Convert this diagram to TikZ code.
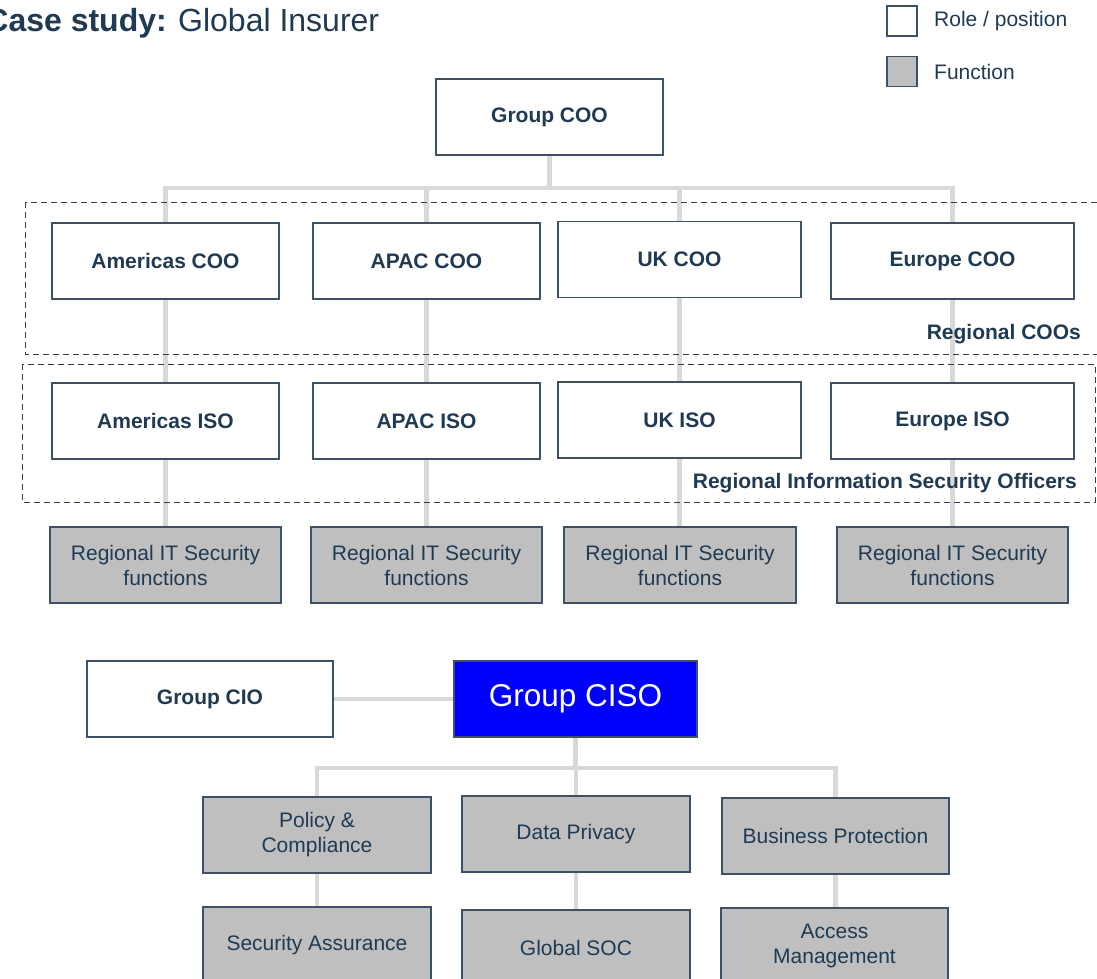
\documentclass[tikz,border=0pt]{standalone}
\usepackage{fontspec}
\setmainfont{Liberation Sans}
\usetikzlibrary{backgrounds}
\definecolor{navy}{HTML}{1F3A52}
\definecolor{edgec}{HTML}{3E5063}
\definecolor{linec}{HTML}{D9D9D9}
\definecolor{funcfill}{HTML}{BFBFBF}
\definecolor{cisoblue}{HTML}{0000FF}
\definecolor{dashc}{HTML}{2F3F4F}
\begin{document}
\begin{tikzpicture}[x=1pt,y=-1pt,
  box/.style={draw=edgec, line width=1.3pt, inner sep=0pt, minimum height=76pt, align=center, text=navy, font=\fontsize{21}{25}\selectfont},
  rolebox/.style={box, fill=white, font=\bfseries\fontsize{21}{25}\selectfont},
  funcbox/.style={box, fill=funcfill},
  conn/.style={draw=linec, line width=4.5pt},
  grp/.style={draw=dashc, line width=1pt, dash pattern=on 6pt off 4pt},
  lbl/.style={text=navy, font=\bfseries\fontsize{21}{25}\selectfont, inner sep=0pt},
  legtext/.style={text=navy, font=\fontsize{21}{25}\selectfont, inner sep=0pt, anchor=west},
  legbox/.style={draw=edgec, line width=1.3pt, minimum size=30pt, inner sep=0pt},
  titletext/.style={inner sep=0pt, text=navy, font=\fontsize{32}{37}\selectfont}
]
\useasboundingbox (0,0) rectangle (1097,978);
\clip (0,0) rectangle (1097,978);

% title
\node[titletext, anchor=base east, font=\bfseries\fontsize{32}{37}\selectfont] (titlea) at (167,31) {Case study:};
\node[titletext, anchor=base west] (titleb) at (178,31) {Global Insurer};

% legend
\node[legbox, fill=white] (legrole) at (902,21) {};
\node[legbox, fill=funcfill] (legfunc) at (902,71.5) {};
\node[legtext] (legroletext) at (934,21) {Role / position};
\node[legtext] (legfunctext) at (934,72) {Function};

% group boxes (dashed)
\draw[grp] (25,202) rectangle (1104,354);
\draw[grp] (22,364) rectangle (1095,502);
\node[lbl, anchor=east] (lblcoo) at (1081,334) {Regional COOs};
\node[lbl, anchor=east] (lbliso) at (1077,483) {Regional Information Security Officers};

% top hierarchy
\node[rolebox, minimum width=227pt] (gcoo) at (549.5,117) {Group COO};

\node[rolebox, minimum width=227pt] (amcoo) at (165.5,261) {Americas COO};
\node[rolebox, minimum width=227pt] (apcoo) at (426.5,261) {APAC COO};
\node[rolebox, minimum width=243pt] (ukcoo) at (679.5,259.5) {UK COO};
\node[rolebox, minimum width=243pt] (eucoo) at (952.5,261) {Europe COO};

\node[rolebox, minimum width=227pt] (amiso) at (165.5,421) {Americas ISO};
\node[rolebox, minimum width=227pt] (apiso) at (426.5,421) {APAC ISO};
\node[rolebox, minimum width=243pt] (ukiso) at (679.5,420) {UK ISO};
\node[rolebox, minimum width=243pt] (euiso) at (952.5,421) {Europe ISO};

\node[funcbox, minimum width=231pt] (amf) at (165.5,565) {Regional IT Security\\functions};
\node[funcbox, minimum width=231pt] (apf) at (426.5,565) {Regional IT Security\\functions};
\node[funcbox, minimum width=232pt] (ukf) at (680,565) {Regional IT Security\\functions};
\node[funcbox, minimum width=231pt] (euf) at (952.5,565) {Regional IT Security\\functions};

% lower hierarchy
\node[rolebox, minimum width=246pt] (cio) at (210,699) {Group CIO};
\node[box, fill=cisoblue, text=white, minimum width=243pt, font=\fontsize{31.5}{36}\selectfont] (ciso) at (575.5,699) {Group CISO};

\node[funcbox, minimum width=228pt] (pol) at (317,835) {Policy \&\\Compliance};
\node[funcbox, minimum width=228pt] (dp) at (576,834) {Data Privacy};
\node[funcbox, minimum width=227pt] (bp) at (835.5,836) {Business Protection};

\node[funcbox, minimum width=228pt] (sa) at (317,945) {Security Assurance};
\node[funcbox, minimum width=228pt] (gsoc) at (576,948) {Global SOC};
\node[funcbox, minimum width=227pt] (am) at (834.5,946) {Access\\Management};

% connectors
\begin{scope}[on background layer]
\draw[conn] (gcoo.south) -- (gcoo.south |- 0,188);
\draw[conn] (amcoo.north) |- (eucoo.north |- 0,188) -- (eucoo.north);
\draw[conn] (apcoo.north) -- (apcoo.north |- 0,188);
\draw[conn] (ukcoo.north) -- (ukcoo.north |- 0,188);

\draw[conn] (amcoo.south) -- (amiso.north);
\draw[conn] (apcoo.south) -- (apiso.north);
\draw[conn] (ukcoo.south) -- (ukiso.north);
\draw[conn] (eucoo.south) -- (euiso.north);

\draw[conn] (amiso.south) -- (amiso.south |- amf.north);
\draw[conn] (apiso.south) -- (apiso.south |- apf.north);
\draw[conn] (ukiso.south) -- (ukiso.south |- ukf.north);
\draw[conn] (euiso.south) -- (euiso.south |- euf.north);

\draw[conn] (cio.east) -- (ciso.west);
\draw[conn] (ciso.south) -- (ciso.south |- 0,768);
\draw[conn] (pol.north) |- (bp.north |- 0,768) -- (bp.north);
\draw[conn] (dp.north) -- (dp.north |- 0,768);

\draw[conn] (pol.south) -- (sa.north);
\draw[conn] (dp.south) -- (gsoc.north);
\draw[conn] (bp.south) -- (bp.south |- am.north);
\end{scope}
\end{tikzpicture}
\end{document}
